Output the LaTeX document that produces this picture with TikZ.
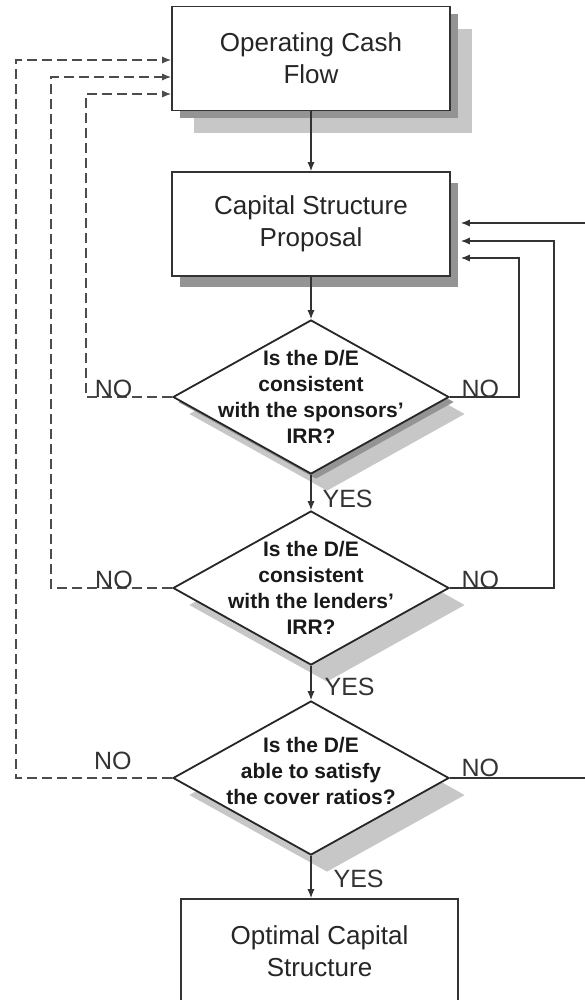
\documentclass[tikz,border=0pt]{standalone}
\usepackage{fontspec}
\setmainfont{Liberation Sans}
\usetikzlibrary{shapes.geometric, arrows.meta, shadows, calc}

\begin{document}
\begin{tikzpicture}[x=0.5pt, y=-0.5pt, >={Latex[length=4.5pt, width=3.6pt]},
  stage/.style={draw=black!80, line width=0.9pt, rectangle, fill=white, minimum width=139pt, minimum height=52pt, align=center, font=\fontsize{13}{16}\selectfont, text=black!85},
  test/.style={draw=black!85, line width=0.9pt, diamond, fill=white, minimum width=138pt, minimum height=77pt, inner sep=0pt},
  qtext/.style={align=center, font=\fontsize{10.5}{13}\selectfont\bfseries, text=black!90},
  boxlight/.style={drop shadow={shadow xshift=11pt, shadow yshift=-11.5pt, fill=black!22, opacity=1}},
  boxdark/.style={drop shadow={shadow xshift=4pt, shadow yshift=-4pt, fill=black!42, opacity=1}},
  propdark/.style={drop shadow={shadow xshift=4pt, shadow yshift=-5.5pt, fill=black!42, opacity=1}},
  testlight/.style={drop shadow={shadow xshift=8pt, shadow yshift=-8.5pt, fill=black!22, opacity=1}},
  testdark/.style={drop shadow={shadow xshift=2.5pt, shadow yshift=-2.5pt, fill=black!42, opacity=1}},
  answer/.style={font=\fontsize{12.5}{15}\selectfont, text=black!80, inner sep=0pt},
  flow/.style={->, line width=0.6pt, draw=black!80},
  retry/.style={->, line width=0.6pt, draw=black!70, dash pattern=on 5pt off 2.5pt}]
\useasboundingbox (0,0) rectangle (584,1000);

% Process boxes
\node[stage, boxlight, boxdark] (ocf) at (311,58.5) {Operating Cash\\Flow};
\node[stage, propdark] (csp) at (311,224) {Capital Structure\\Proposal};
\node[stage, minimum width=138.5pt] (ocs) at (319.5,951) {Optimal Capital\\Structure};

% Tests
\node[test, testlight, testdark, label={[qtext]center:Is the D/E\\consistent\\with the sponsors'\\IRR?}] (d1) at (311,397) {};
\node[test, testlight, label={[qtext]center:Is the D/E\\consistent\\with the lenders'\\IRR?}] (d2) at (311,588) {};
\node[test, testlight, label={[qtext, yshift=3.5pt]center:Is the D/E\\able to satisfy\\the cover ratios?}] (d3) at (311,778) {};

% Return lanes
\coordinate (lane1) at (16,0);
\coordinate (lane2) at (51,0);
\coordinate (lane3) at (86,0);
\coordinate (rlane1) at (519,0);
\coordinate (rlane2) at (554,0);
\coordinate (rlane3) at (592,0);

% Main flow
\draw[flow] (ocf) -- (csp);
\draw[flow] (csp) -- (d1);
\draw[flow] (d1) -- node[answer, right, xshift=5.5pt, yshift=-3pt] (yes1) {YES} (d2);
\draw[flow] (d2) -- node[answer, right, xshift=6.5pt, yshift=-1.75pt] (yes2) {YES} (d3);
\draw[flow] (d3.south) -- node[answer, right, xshift=11pt, yshift=-1pt] (yes3) {YES} (d3.south |- ocs.north);

% Back to the cash flow (dashed)
\draw[retry] (d1.west) -- node[answer, anchor=base, pos=0.68] (no1l) {NO} (d1.west -| lane3) |- ($(ocf.west)+(0,35.5)$);
\draw[retry] (d2.west) -- node[answer, anchor=base, pos=0.48] (no2l) {NO} (d2.west -| lane2) |- ($(ocf.west)+(0,18.5)$);
\draw[retry] (d3.west) -- node[answer, anchor=base, pos=0.38, yshift=4.5pt] (no3l) {NO} (d3.west -| lane1) |- ($(ocf.west)+(0,1.5)$);

% Back to the proposal
\draw[flow] (d1.east) node[answer, anchor=base west, xshift=5.5pt] (no1r) {NO} -- (d1.east -| rlane1) |- ($(csp.east)+(10,34)$);
\draw[flow] (d2.east) node[answer, anchor=base west, xshift=5.5pt] (no2r) {NO} -- (d2.east -| rlane2) |- ($(csp.east)+(10,17)$);
\draw[flow] (d3.east) node[answer, anchor=base west, xshift=5.5pt, yshift=1pt] (no3r) {NO} -- (d3.east -| rlane3) |- ($(csp.east)+(10,-1)$);
\end{tikzpicture}
\end{document}
